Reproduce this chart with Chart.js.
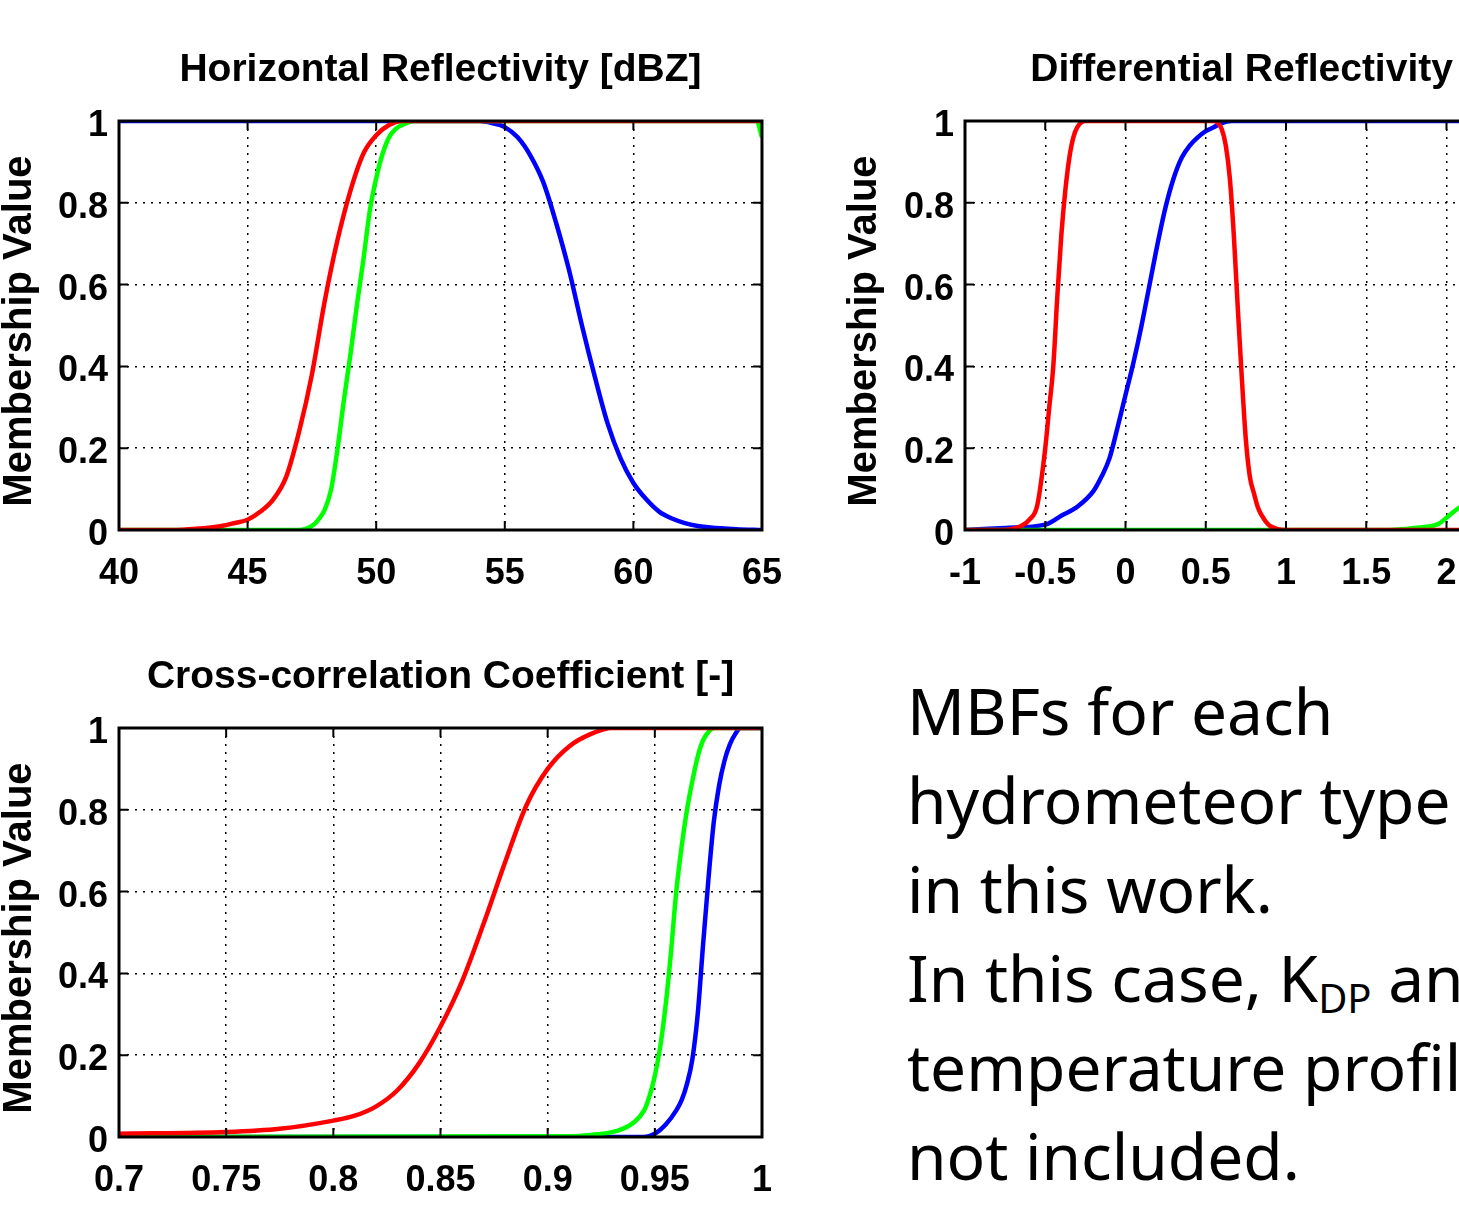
<!DOCTYPE html>
<html>
<head>
<meta charset="utf-8">
<script src="https://cdn.jsdelivr.net/npm/chart.js@4"></script>
<style>
html, body { margin: 0; padding: 0; background: #fff; overflow: hidden; width: 1459px; height: 1226px; }
canvas { position: absolute; }
#note { position: absolute; left: 907px; top: 666px; font-family: "Noto Sans"; font-size: 64px; line-height: 89px; white-space: nowrap; color: #000; }
#note sub { font-size: 40px; vertical-align: -11px; line-height: 0; }
</style>
</head>
<body>
<canvas id="zh" width="804" height="610" style="left:0;top:0"></canvas>
<canvas id="zdr" width="800" height="610" style="left:845px;top:0"></canvas>
<canvas id="rho" width="800" height="610" style="left:0;top:607px"></canvas>
<div id="note">MBFs for each<br>hydrometeor type<br>in this work.<br>In this case, K<sub>DP</sub> and<br>temperature profile are<br>not included.</div>
<script>
// tick labels
const yTicks = [0, 0.2, 0.4, 0.6, 0.8, 1];
const zhTicks = [40, 45, 50, 55, 60, 65];
const zdrTicks = [-1, -0.5, 0, 0.5, 1, 1.5, 2, 2.5, 3];
const rhoTicks = [0.7, 0.75, 0.8, 0.85, 0.9, 0.95, 1];

// Horizontal reflectivity [dBZ]
const zhRedX = [40, 42, 43, 44, 44.5, 45, 45.5, 46, 46.5, 47, 47.5, 48, 48.5, 49, 49.5, 50, 50.5, 51, 65];
const zhRedY = [0, 0, 0.003, 0.01, 0.017, 0.025, 0.045, 0.075, 0.13, 0.24, 0.38, 0.56, 0.71, 0.83, 0.92, 0.965, 0.99, 1, 1];
const zhGreenX = [40, 47, 47.5, 47.75, 48, 48.25, 48.5, 48.75, 49, 49.25, 49.5, 49.75, 50, 50.25, 50.5, 50.75, 51, 51.5, 64.8, 65];
const zhGreenY = [0, 0, 0.01, 0.025, 0.05, 0.1, 0.2, 0.32, 0.43, 0.55, 0.66, 0.78, 0.86, 0.92, 0.96, 0.98, 0.99, 1, 1, 0.96];
const zhBlueX = [40, 54, 54.5, 55, 55.5, 56, 56.5, 57, 57.5, 58, 58.5, 59, 59.5, 60, 60.5, 61, 61.5, 62, 62.5, 63, 64, 65];
const zhBlueY = [1, 1, 0.995, 0.985, 0.96, 0.915, 0.85, 0.75, 0.635, 0.5, 0.375, 0.26, 0.175, 0.115, 0.075, 0.045, 0.028, 0.017, 0.01, 0.006, 0.002, 0];

// Differential reflectivity
const zdrRedX = [-1, -0.75, -0.7, -0.65, -0.6, -0.55, -0.5, -0.475, -0.45, -0.425, -0.4, -0.375, -0.35, -0.325, -0.3, -0.25, 0.55, 0.575, 0.6, 0.625, 0.65, 0.675, 0.7, 0.725, 0.75, 0.775, 0.8, 0.825, 0.85, 0.875, 0.9, 0.95, 1, 3];
const zdrRedY = [0, 0, 0.003, 0.01, 0.025, 0.06, 0.2, 0.3, 0.4, 0.57, 0.72, 0.83, 0.91, 0.96, 0.985, 1, 1, 0.995, 0.98, 0.94, 0.86, 0.72, 0.54, 0.37, 0.22, 0.13, 0.09, 0.055, 0.035, 0.02, 0.01, 0.002, 0, 0];
const zdrGreenX = [-1, 1.6, 1.8, 1.95, 2.0, 2.08, 2.15];
const zdrGreenY = [0, 0, 0.005, 0.015, 0.03, 0.055, 0.07];
const zdrBlueX = [-1, -0.75, -0.5, -0.4, -0.3, -0.2, -0.15, -0.1, -0.05, 0, 0.05, 0.1, 0.15, 0.2, 0.25, 0.3, 0.35, 0.4, 0.45, 0.5, 0.55, 0.6, 0.66, 3];
const zdrBlueY = [0, 0.005, 0.013, 0.035, 0.057, 0.095, 0.13, 0.175, 0.25, 0.33, 0.41, 0.5, 0.6, 0.7, 0.79, 0.86, 0.91, 0.94, 0.96, 0.975, 0.985, 0.995, 1, 1];

// Cross-correlation coefficient
const rhoRedX = [0.7, 0.75, 0.775, 0.8, 0.81, 0.82, 0.83, 0.84, 0.85, 0.86, 0.87, 0.88, 0.89, 0.9, 0.91, 0.92, 0.93, 1];
const rhoRedY = [0.008, 0.012, 0.02, 0.04, 0.052, 0.075, 0.115, 0.18, 0.27, 0.38, 0.52, 0.67, 0.81, 0.9, 0.955, 0.985, 1, 1];
const rhoGreenX = [0.7, 0.91, 0.92, 0.93, 0.935, 0.94, 0.945, 0.9475, 0.95, 0.9525, 0.955, 0.9575, 0.96, 0.9625, 0.965, 0.9675, 0.97, 0.9725, 0.975, 0.9775, 1];
const rhoGreenY = [0, 0.002, 0.005, 0.012, 0.02, 0.035, 0.065, 0.1, 0.15, 0.22, 0.32, 0.45, 0.6, 0.71, 0.8, 0.87, 0.93, 0.97, 0.99, 1, 1];
const rhoBlueX = [0.7, 0.945, 0.95, 0.955, 0.96, 0.9625, 0.965, 0.9675, 0.97, 0.9725, 0.975, 0.9775, 0.98, 0.9825, 0.985, 0.9875, 0.99, 1];
const rhoBlueY = [0, 0, 0.008, 0.03, 0.065, 0.09, 0.13, 0.19, 0.3, 0.47, 0.63, 0.77, 0.86, 0.92, 0.96, 0.985, 1, 1];

const FONT = 'Liberation Sans';

function pts(xs, ys) {
    return xs.map((x, i) => ({ x: x, y: ys[i] }));
}

// black box + inward tick marks, like matlab
const framePlugin = {
    id: 'frame',
    afterDraw(chart) {
        const ctx = chart.ctx;
        const a = chart.chartArea;
        const sx = chart.scales.x, sy = chart.scales.y;
        ctx.save();
        ctx.strokeStyle = '#000';
        ctx.lineWidth = 2;
        ctx.beginPath();
        sx.ticks.forEach(t => {
            const p = sx.getPixelForValue(t.value);
            ctx.moveTo(p, a.bottom); ctx.lineTo(p, a.bottom - 9);
            ctx.moveTo(p, a.top); ctx.lineTo(p, a.top + 9);
        });
        sy.ticks.forEach(t => {
            const p = sy.getPixelForValue(t.value);
            ctx.moveTo(a.left, p); ctx.lineTo(a.left + 9, p);
            ctx.moveTo(a.right, p); ctx.lineTo(a.right - 9, p);
        });
        ctx.stroke();
        ctx.lineWidth = 3;
        ctx.strokeRect(a.left, a.top, a.right - a.left, a.bottom - a.top);
        ctx.restore();
    }
};

function buildChart(id, title, xMin, xMax, xTicks, yAxisWidth, curves) {
    const grid = { color: '#000', lineWidth: 1.5, drawTicks: false };
    const border = { display: false, dash: [2, 6] };
    new Chart(document.getElementById(id), {
        type: 'line',
        data: {
            datasets: curves.map(c => ({
                data: pts(c[0], c[1]),
                borderColor: c[2],
                borderWidth: 4.5,
                pointRadius: 0,
                fill: false,
                cubicInterpolationMode: 'monotone'
            }))
        },
        options: {
            responsive: false,
            animation: false,
            devicePixelRatio: 1,
            layout: { padding: { left: 0, right: 38, top: 0, bottom: 0 } },
            plugins: { legend: { display: false }, tooltip: { enabled: false } },
            scales: {
                x: {
                    type: 'linear', position: 'bottom', min: xMin, max: xMax,
                    afterBuildTicks: s => { s.ticks = xTicks.map(v => ({ value: v })); },
                    ticks: { color: '#000', font: { family: FONT, size: 36, weight: 'bold' }, padding: 22, maxRotation: 0, autoSkip: false, callback: v => String(v) },
                    grid: grid, border: border,
                    afterFit: s => { s.height = 80; }
                },
                x2: {
                    type: 'linear', position: 'top', min: xMin, max: xMax,
                    ticks: { display: false },
                    grid: { display: false }, border: { display: false },
                    title: { display: true, text: title, color: '#000', font: { family: FONT, size: 39, weight: 'bold', lineHeight: 1.2 }, padding: { top: 47, bottom: 0 } },
                    afterFit: s => { s.height = 121; }
                },
                y: {
                    type: 'linear', min: 0, max: 1,
                    afterBuildTicks: s => { s.ticks = yTicks.map(v => ({ value: v })); },
                    ticks: { color: '#000', font: { family: FONT, size: 36, weight: 'bold' }, padding: 11, labelOffset: 5, callback: v => String(v) },
                    grid: grid, border: border,
                    // trailing nbsp nudges the rotated label a bit lower, as in the original
                    title: { display: true, text: 'Membership Value\u00a0', color: '#000', font: { family: FONT, size: 40, weight: 'bold', lineHeight: 1 }, padding: 0 },
                    afterFit: s => { s.width = yAxisWidth; }
                }
            }
        },
        plugins: [framePlugin]
    });
}

buildChart('zh', 'Horizontal Reflectivity [dBZ]', 40, 65, zhTicks, 119, [
    [zhRedX, zhRedY, '#ff0000'],
    [zhGreenX, zhGreenY, '#00ff00'],
    [zhBlueX, zhBlueY, '#0000ff']
]);

buildChart('zdr', 'Differential Reflectivity [dB]', -1, 3, zdrTicks, 120, [
    [zdrRedX, zdrRedY, '#ff0000'],
    [zdrGreenX, zdrGreenY, '#00ff00'],
    [zdrBlueX, zdrBlueY, '#0000ff']
]);

buildChart('rho', 'Cross-correlation Coefficient [-]', 0.7, 1, rhoTicks, 119, [
    [rhoRedX, rhoRedY, '#ff0000'],
    [rhoGreenX, rhoGreenY, '#00ff00'],
    [rhoBlueX, rhoBlueY, '#0000ff']
]);
</script>
</body>
</html>
